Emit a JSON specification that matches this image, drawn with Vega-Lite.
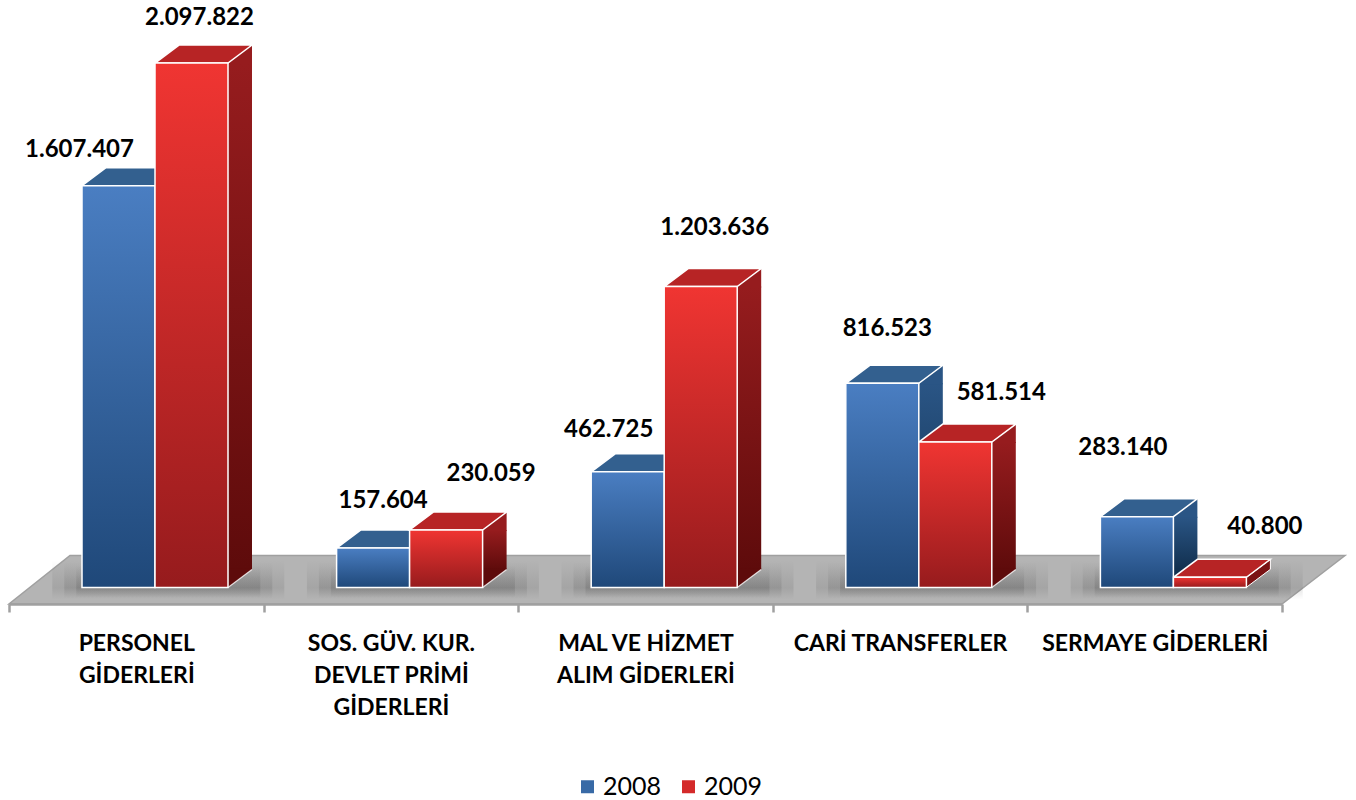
{
"$schema":"https://vega.github.io/schema/vega-lite/v6.json",
"width":1273,"height":604,
"autosize":{"type":"none"},
"padding":{"left":9,"top":0,"right":74,"bottom":196},
"background":"white",
"config":{"locale":{"number":{"decimal":",","thousands":".","grouping":[3],"currency":["",""]}},"view":{"stroke":null}},
"data":{"values":[
{"category":"PERSONEL GİDERLERİ","year":"2008","value":1607407},
{"category":"PERSONEL GİDERLERİ","year":"2009","value":2097822},
{"category":"SOS. GÜV. KUR. DEVLET PRİMİ GİDERLERİ","year":"2008","value":157604},
{"category":"SOS. GÜV. KUR. DEVLET PRİMİ GİDERLERİ","year":"2009","value":230059},
{"category":"MAL VE HİZMET ALIM GİDERLERİ","year":"2008","value":462725},
{"category":"MAL VE HİZMET ALIM GİDERLERİ","year":"2009","value":1203636},
{"category":"CARİ TRANSFERLER","year":"2008","value":816523},
{"category":"CARİ TRANSFERLER","year":"2009","value":581514},
{"category":"SERMAYE GİDERLERİ","year":"2008","value":283140},
{"category":"SERMAYE GİDERLERİ","year":"2009","value":40800}
]},
"encoding":{
"x":{"field":"category","type":"nominal","title":null,"sort":null,
"scale":{"domain":["PERSONEL GİDERLERİ","SOS. GÜV. KUR. DEVLET PRİMİ GİDERLERİ","MAL VE HİZMET ALIM GİDERLERİ","CARİ TRANSFERLER","SERMAYE GİDERLERİ"],"paddingInner":0,"paddingOuter":0},
"axis":{"zindex":1,"labelAngle":0,"labelExpr":"{'PERSONEL GİDERLERİ':['PERSONEL','GİDERLERİ'],'SOS. GÜV. KUR. DEVLET PRİMİ GİDERLERİ':['SOS. GÜV. KUR.','DEVLET PRİMİ','GİDERLERİ'],'MAL VE HİZMET ALIM GİDERLERİ':['MAL VE HİZMET','ALIM GİDERLERİ'],'CARİ TRANSFERLER':['CARİ TRANSFERLER'],'SERMAYE GİDERLERİ':['SERMAYE GİDERLERİ']}[datum.label]",
"labelFont":"Lato","labelFontWeight":"bold","labelFontSize":23,"labelColor":"#000000","labelLineHeight":32,"labelPadding":20,"labelLimit":400,"labelOverlap":false,
"domainColor":"#a0a0a0","domainWidth":2.5,"tickColor":"#a0a0a0","tickWidth":2.5,"tickSize":8,"tickBand":"extent","grid":false}},
"y":{"field":"value","type":"quantitative","axis":null,"title":null,"scale":{"domain":[-66000,2350000],"nice":false,"zero":false}}
},
"resolve":{"scale":{"xOffset":"independent"}},
"layer":[
{"transform":[{"filter":"datum.value===462725"}],
 "mark":{"type":"point","filled":true,"opacity":1,"size":4,"stroke":"#a0a0a0","strokeWidth":1.5,"shape":"M-636.5 16.5 L636.5 16.5 L699.5 -32 L-575.5 -32 Z"},
 "encoding":{"y":{"datum":0},"fill":{"value":"#b4b4b4"}}},
{"transform":[{"filter":"datum.year==='2008'"}],
 "mark":{"type":"point","filled":true,"opacity":1,"size":4,"strokeWidth":0,"shape":"M-84 -27 L148 -27 L148 12 L-84 12 Z"},
 "encoding":{"y":{"datum":0},"fill":{"value":{"gradient":"linear","x1":0,"y1":0,"x2":0,"y2":1,"stops":[{"offset":0,"color":"rgba(70,70,70,0)"},{"offset":0.7,"color":"rgba(70,70,70,0.14)"},{"offset":1,"color":"rgba(70,70,70,0)"}]}}}},
{"transform":[{"filter":"datum.year==='2008'"}],
 "mark":{"type":"point","filled":true,"opacity":1,"size":4,"strokeWidth":0,"shape":"M-72 -25 L136 -25 L136 11 L-72 11 Z"},
 "encoding":{"y":{"datum":0},"fill":{"value":{"gradient":"linear","x1":0,"y1":0,"x2":0,"y2":1,"stops":[{"offset":0,"color":"rgba(70,70,70,0)"},{"offset":0.7,"color":"rgba(70,70,70,0.16)"},{"offset":1,"color":"rgba(70,70,70,0)"}]}}}},
{"transform":[{"filter":"datum.year==='2008'"}],
 "mark":{"type":"point","filled":true,"opacity":1,"size":4,"strokeWidth":0,"shape":"M-60 -22 L124 -22 L124 10 L-60 10 Z"},
 "encoding":{"y":{"datum":0},"fill":{"value":{"gradient":"linear","x1":0,"y1":0,"x2":0,"y2":1,"stops":[{"offset":0,"color":"rgba(70,70,70,0)"},{"offset":0.7,"color":"rgba(70,70,70,0.2)"},{"offset":1,"color":"rgba(70,70,70,0)"}]}}}},
{"transform":[{"filter":"datum.value>=72000"}],
 "mark":{"type":"bar"},
 "encoding":{
  "xOffset":{"field":"year","type":"nominal","scale":{"domain":["2008","2009"],"range":[146,243],"paddingInner":0.671,"paddingOuter":0}},
  "y2":{"datum":72000},
  "fill":{"condition":{"test":"datum.year==='2008'","value":{"gradient":"linear","x1":0,"y1":0,"x2":0,"y2":1,"stops":[{"offset":0,"color":"#2a5585"},{"offset":1,"color":"#12304f"}]}},"value":{"gradient":"linear","x1":0,"y1":0,"x2":0,"y2":1,"stops":[{"offset":0,"color":"#961c1e"},{"offset":1,"color":"#5e0b0b"}]}}
 }},
{"encoding":{"xOffset":{"field":"year","type":"nominal","scale":{"domain":["2008","2009"],"range":[73,219],"paddingInner":0,"paddingOuter":0}}},
 "layer":[
 {"transform":[{"filter":"datum.value>=72000"}],
  "mark":{"type":"point","filled":true,"opacity":1,"size":4,"strokeWidth":0,"shape":"M36.5 0 L60.5 -18 L60.5 1 L36.5 1 Z"},
  "encoding":{"fill":{"condition":{"test":"datum.year==='2008'","value":"#2a5585"},"value":"#961c1e"}}},
 {"transform":[{"filter":"datum.value>=72000"}],
  "mark":{"type":"point","filled":true,"opacity":1,"size":4,"strokeWidth":0,"shape":"M36.5 -19 L60.5 -19 L60.5 -18 L36.5 0 Z"},
  "encoding":{"y":{"datum":0},"fill":{"condition":{"test":"datum.year==='2008'","value":"#12304f"},"value":"#5e0b0b"}}},
 {"transform":[{"filter":"datum.value<72000"}],
  "mark":{"type":"point","filled":true,"opacity":1,"size":4,"shape":"M36.5 0 L60.5 -18 L60.5 -8 L36.5 10 Z","stroke":"#ffffff","strokeWidth":1},
  "encoding":{"fill":{"condition":{"test":"datum.year==='2008'","value":"#12304f"},"value":"#7a1214"}}},
 {"transform":[{"filter":"datum.value>=72000"}],
  "mark":{"type":"point","filled":false,"opacity":0.8,"size":4,"shape":"M36.5 0 L60.5 -18","stroke":"#ffffff","strokeWidth":1.2},
  "encoding":{"y":{"datum":0}}},
 {"mark":{"type":"point","filled":true,"opacity":1,"size":4,"shape":"M-36.5 0 L36.5 0 L60.5 -18 L-12.5 -18 Z","stroke":"#ffffff","strokeWidth":1.5},
  "encoding":{"fill":{"condition":{"test":"datum.year==='2008'","value":"#33608f"},"value":"#b72425"}}},
 {"mark":{"type":"bar"},
  "encoding":{
   "y2":{"datum":0},
   "fill":{"field":"year","type":"nominal","title":null,
    "scale":{"domain":["2008","2009"],"range":["#386aa6","#d42a2a"]},
    "legend":{"orient":"none","legendX":566,"legendY":774,"direction":"horizontal","columns":2,"symbolType":"square","symbolSize":169,"symbolStrokeWidth":0,"labelFont":"Lato","labelFontSize":25,"labelColor":"#000000","columnPadding":14,"labelOffset":3,"padding":0}}
  }},
 {"mark":{"type":"bar","stroke":"#ffffff","strokeWidth":1.5},
  "encoding":{
   "y2":{"datum":0},
   "fill":{"condition":{"test":"datum.year==='2008'","value":{"gradient":"linear","x1":0,"y1":0,"x2":0,"y2":1,"stops":[{"offset":0,"color":"#4a7ec2"},{"offset":1,"color":"#1f4879"}]}},"value":{"gradient":"linear","x1":0,"y1":0,"x2":0,"y2":1,"stops":[{"offset":0,"color":"#f03532"},{"offset":1,"color":"#961b1d"}]}}
  }},
 {"transform":[{"filter":"datum.value===1607407"}],"mark":{"type":"text","font":"Lato","fontWeight":"bold","fontSize":24,"color":"#000000","dx":-39,"dy":-36},"encoding":{"text":{"field":"value","format":",d"}}},
 {"transform":[{"filter":"datum.value===2097822"}],"mark":{"type":"text","font":"Lato","fontWeight":"bold","fontSize":24,"color":"#000000","dx":8,"dy":-45},"encoding":{"text":{"field":"value","format":",d"}}},
 {"transform":[{"filter":"datum.value===157604"}],"mark":{"type":"text","font":"Lato","fontWeight":"bold","fontSize":24,"color":"#000000","dx":10,"dy":-47},"encoding":{"text":{"field":"value","format":",d"}}},
 {"transform":[{"filter":"datum.value===230059"}],"mark":{"type":"text","font":"Lato","fontWeight":"bold","fontSize":24,"color":"#000000","dx":45,"dy":-56},"encoding":{"text":{"field":"value","format":",d"}}},
 {"transform":[{"filter":"datum.value===462725"}],"mark":{"type":"text","font":"Lato","fontWeight":"bold","fontSize":24,"color":"#000000","dx":-19,"dy":-42},"encoding":{"text":{"field":"value","format":",d"}}},
 {"transform":[{"filter":"datum.value===1203636"}],"mark":{"type":"text","font":"Lato","fontWeight":"bold","fontSize":24,"color":"#000000","dx":14,"dy":-59},"encoding":{"text":{"field":"value","format":",d"}}},
 {"transform":[{"filter":"datum.value===816523"}],"mark":{"type":"text","font":"Lato","fontWeight":"bold","fontSize":24,"color":"#000000","dx":5,"dy":-54},"encoding":{"text":{"field":"value","format":",d"}}},
 {"transform":[{"filter":"datum.value===581514"}],"mark":{"type":"text","font":"Lato","fontWeight":"bold","fontSize":24,"color":"#000000","dx":46,"dy":-49},"encoding":{"text":{"field":"value","format":",d"}}},
 {"transform":[{"filter":"datum.value===283140"}],"mark":{"type":"text","font":"Lato","fontWeight":"bold","fontSize":24,"color":"#000000","dx":-14,"dy":-69},"encoding":{"text":{"field":"value","format":",d"}}},
 {"transform":[{"filter":"datum.value===40800"}],"mark":{"type":"text","font":"Lato","fontWeight":"bold","fontSize":24,"color":"#000000","dx":55,"dy":-50},"encoding":{"text":{"field":"value","format":",d"}}}
 ]}
]
}
